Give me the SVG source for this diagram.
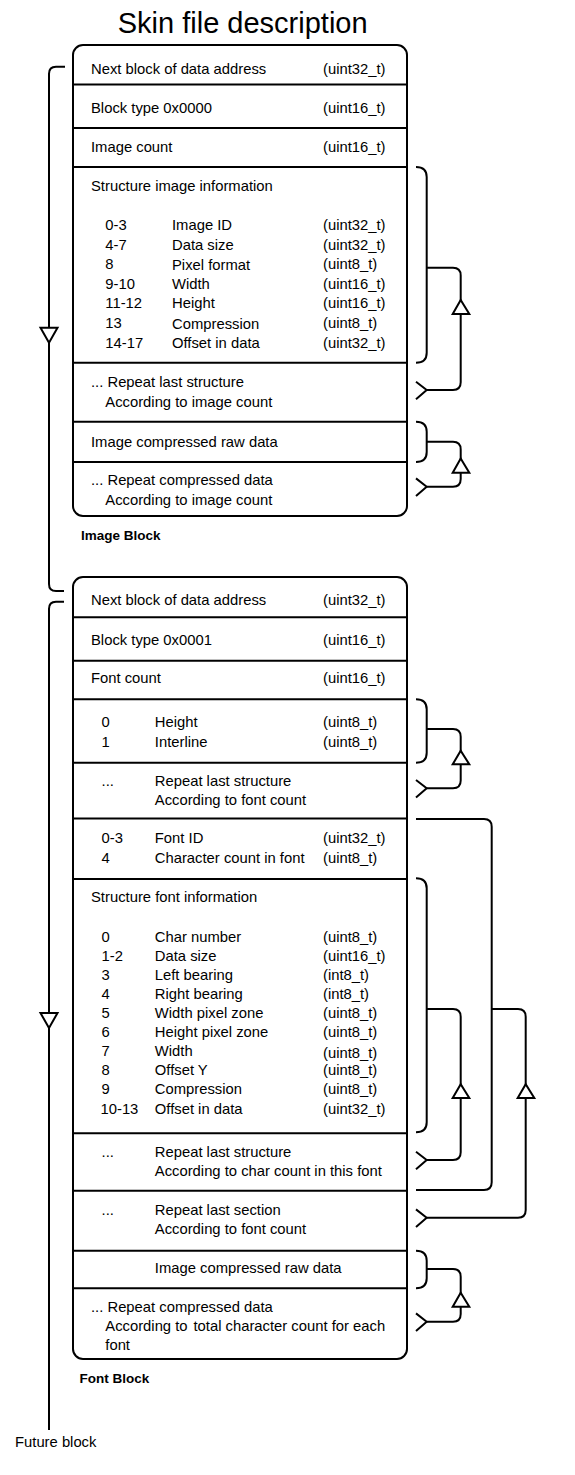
<svg xmlns="http://www.w3.org/2000/svg" width="575" height="1475" viewBox="0 0 575 1475">
<style>
text{font-family:"Liberation Sans",Arial,sans-serif;font-size:14.8px;fill:#000}
.title{font-size:29px}
.bold{font-weight:bold;font-size:13.5px}
.box{fill:#fff;stroke:#000;stroke-width:2}
.row{stroke:#000;stroke-width:2}
.c{fill:none;stroke:#000;stroke-width:2;stroke-linejoin:round}
.tri{fill:#fff;stroke:#000;stroke-width:2;stroke-linejoin:miter}
</style>
<rect width="575" height="1475" fill="#fff"/>
<text class="title" x="242.7" y="33" text-anchor="middle">Skin file description</text>

<g id="image-block">
<rect class="box" x="73" y="45" width="334" height="471" rx="10"/>
<line class="row" x1="73" y1="84.5" x2="407" y2="84.5"/>
<line class="row" x1="73" y1="128" x2="407" y2="128"/>
<line class="row" x1="73" y1="167" x2="407" y2="167"/>
<line class="row" x1="73" y1="362.7" x2="407" y2="362.7"/>
<line class="row" x1="73" y1="421.7" x2="407" y2="421.7"/>
<line class="row" x1="73" y1="462" x2="407" y2="462"/>
<g id="img-next"><text x="91" y="74">Next block of data address</text><text x="323" y="74">(uint32_t)</text></g>
<g id="img-type"><text x="91" y="113.3">Block type 0x0000</text><text x="323" y="113.3">(uint16_t)</text></g>
<g id="img-count"><text x="91" y="151.7">Image count</text><text x="323" y="151.7">(uint16_t)</text></g>
<g id="img-struct">
<text x="91" y="190.7">Structure image information</text>
<text x="105.3" y="230">0-3</text><text x="172" y="230">Image ID</text><text x="323" y="230">(uint32_t)</text>
<text x="105.3" y="249.6">4-7</text><text x="172" y="249.6">Data size</text><text x="323" y="249.6">(uint32_t)</text>
<text x="105.3" y="269.2">8</text><text x="172" y="269.8">Pixel format</text><text x="323" y="269.2">(uint8_t)</text>
<text x="105.3" y="288.8">9-10</text><text x="172" y="288.8">Width</text><text x="323" y="288.8">(uint16_t)</text>
<text x="105.3" y="308.4">11-12</text><text x="172" y="308.4">Height</text><text x="323" y="308.4">(uint16_t)</text>
<text x="105.3" y="328">13</text><text x="172" y="328.6">Compression</text><text x="323" y="328">(uint8_t)</text>
<text x="105.3" y="347.6">14-17</text><text x="172" y="347.6">Offset in data</text><text x="323" y="347.6">(uint32_t)</text>
</g>
<g id="img-repeat"><text x="91" y="386.7">... Repeat last structure</text><text x="105.3" y="406.7">According to image count</text></g>
<g id="img-raw"><text x="91" y="446.7">Image compressed raw data</text></g>
<g id="img-repeat-raw"><text x="91" y="485">... Repeat compressed data</text><text x="105.3" y="504.5">According to image count</text></g>
</g>
<text class="bold" x="81" y="540">Image Block</text>

<g id="font-block">
<rect class="box" x="73" y="577" width="334" height="782" rx="10"/>
<line class="row" x1="73" y1="617.3" x2="407" y2="617.3"/>
<line class="row" x1="73" y1="660.7" x2="407" y2="660.7"/>
<line class="row" x1="73" y1="699.3" x2="407" y2="699.3"/>
<line class="row" x1="73" y1="762.7" x2="407" y2="762.7"/>
<line class="row" x1="73" y1="818.5" x2="407" y2="818.5"/>
<line class="row" x1="73" y1="879" x2="407" y2="879"/>
<line class="row" x1="73" y1="1133.3" x2="407" y2="1133.3"/>
<line class="row" x1="73" y1="1190.7" x2="407" y2="1190.7"/>
<line class="row" x1="73" y1="1250.7" x2="407" y2="1250.7"/>
<line class="row" x1="73" y1="1288.3" x2="407" y2="1288.3"/>
<g id="font-next"><text x="91" y="605">Next block of data address</text><text x="323" y="605">(uint32_t)</text></g>
<g id="font-type"><text x="91" y="645">Block type 0x0001</text><text x="323" y="645">(uint16_t)</text></g>
<g id="font-count"><text x="91" y="683">Font count</text><text x="323" y="683">(uint16_t)</text></g>
<g id="font-header">
<text x="101.6" y="726.7">0</text><text x="154.8" y="726.7">Height</text><text x="323" y="726.7">(uint8_t)</text>
<text x="101.6" y="746.7">1</text><text x="154.8" y="746.7">Interline</text><text x="323" y="746.7">(uint8_t)</text>
</g>
<g id="font-header-repeat"><text x="101.6" y="785.7">...</text><text x="154.8" y="785.7">Repeat last structure</text><text x="154.8" y="804.5">According to font count</text></g>
<g id="font-id">
<text x="101.6" y="843.3">0-3</text><text x="154.8" y="843.3">Font ID</text><text x="323" y="843.3">(uint32_t)</text>
<text x="101.6" y="863.3">4</text><text x="154.8" y="863.3">Character count in font</text><text x="323" y="863.3">(uint8_t)</text>
</g>
<g id="font-struct">
<text x="91" y="902.3">Structure font information</text>
<text x="101.6" y="941.7">0</text><text x="154.8" y="941.7">Char number</text><text x="323" y="941.7">(uint8_t)</text>
<text x="101.6" y="960.8">1-2</text><text x="154.8" y="960.8">Data size</text><text x="323" y="960.8">(uint16_t)</text>
<text x="101.6" y="979.8">3</text><text x="154.8" y="979.8">Left bearing</text><text x="323" y="979.8">(int8_t)</text>
<text x="101.6" y="998.9">4</text><text x="154.8" y="998.9">Right bearing</text><text x="323" y="998.9">(int8_t)</text>
<text x="101.6" y="1017.9">5</text><text x="154.8" y="1017.9">Width pixel zone</text><text x="323" y="1017.9">(uint8_t)</text>
<text x="101.6" y="1037">6</text><text x="154.8" y="1037">Height pixel zone</text><text x="323" y="1037">(uint8_t)</text>
<text x="101.6" y="1056">7</text><text x="154.8" y="1056">Width</text><text x="323" y="1057.5">(uint8_t)</text>
<text x="101.6" y="1075">8</text><text x="154.8" y="1075">Offset Y</text><text x="323" y="1075">(uint8_t)</text>
<text x="101.6" y="1094.1">9</text><text x="154.8" y="1094.1">Compression</text><text x="323" y="1094.1">(uint8_t)</text>
<text x="100.5" y="1113.5">10-13</text><text x="154.8" y="1113.5">Offset in data</text><text x="323" y="1113.5">(uint32_t)</text>
</g>
<g id="font-struct-repeat"><text x="101.6" y="1156.7">...</text><text x="154.8" y="1156.7">Repeat last structure</text><text x="154.8" y="1175.7">According to char count in this font</text></g>
<g id="font-section-repeat"><text x="101.6" y="1215">...</text><text x="154.8" y="1215">Repeat last section</text><text x="154.8" y="1234">According to font count</text></g>
<g id="font-raw"><text x="154.8" y="1273.3">Image compressed raw data</text></g>
<g id="font-repeat-raw"><text x="91" y="1311.7">... Repeat compressed data</text><text x="105.3" y="1331">According to<tspan x="193.5">total character count for each</tspan></text><text x="105.3" y="1350">font</text></g>
</g>
<text class="bold" x="79.6" y="1383.3">Font Block</text>
<text x="15" y="1447">Future block</text>

<g id="connectors">
<path class="c" d="M65 66.7 H56 Q49 66.7 49 73.7 V584 Q49 591 56 591 H64"/>
<polygon class="tri" points="40.5,327.7 57.5,327.7 49,342.7"/>
<path class="c" d="M64 601.7 H56 Q49 601.7 49 608.7 V1430"/>
<polygon class="tri" points="40.5,1013 57.5,1013 49,1028"/>

<path class="c" d="M416 167 Q426.7 167 426.7 177 V352.7 Q426.7 362.7 416 362.7"/>
<path class="c" d="M426.7 267.7 H453 Q460.7 267.7 460.7 275.4 V382.3 Q460.7 390 453 390 H426.7"/>
<path class="c" d="M416 381.7 L426.7 390 L416 399.3"/>
<polygon class="tri" points="452.7,314 469.3,314 460.7,300"/>

<path class="c" d="M416 421.7 Q426.7 421.7 426.7 431.7 V452 Q426.7 462 416 462"/>
<path class="c" d="M426.7 441.7 H453 Q460.7 441.7 460.7 449.4 V479 Q460.7 486.7 453 486.7 H426.7"/>
<path class="c" d="M416 478.4 L426.7 486.7 L416 496"/>
<polygon class="tri" points="452.7,472.7 469.3,472.7 460.7,458.5"/>

<path class="c" d="M416 699.3 Q426.7 699.3 426.7 709.3 V752.7 Q426.7 762.7 416 762.7"/>
<path class="c" d="M426.7 729 H453 Q460.7 729 460.7 736.7 V780.6 Q460.7 788.3 453 788.3 H426.7"/>
<path class="c" d="M416 780 L426.7 788.3 L416 797.6"/>
<polygon class="tri" points="452.7,764.3 469.3,764.3 460.7,750.7"/>

<path class="c" d="M416 819 H484 Q491.7 819 491.7 826.7 V1182.3 Q491.7 1190 484 1190 H416"/>
<path class="c" d="M416 878.3 Q426.7 878.3 426.7 888.3 V1122.3 Q426.7 1132.3 416 1132.3"/>
<path class="c" d="M426.7 1009 H453 Q460.7 1009 460.7 1016.7 V1152.3 Q460.7 1160 453 1160 H426.7"/>
<path class="c" d="M416 1151.7 L426.7 1160 L416 1169.3"/>
<polygon class="tri" points="452.7,1098 469.3,1098 460.7,1084.3"/>
<path class="c" d="M491.7 1009 H518 Q525.7 1009 525.7 1016.7 V1210 Q525.7 1217.7 518 1217.7 H426.7"/>
<path class="c" d="M416 1209.4 L426.7 1217.7 L416 1227"/>
<polygon class="tri" points="517.7,1098 534.3,1098 525.7,1084.3"/>

<path class="c" d="M416 1250.7 Q426.7 1250.7 426.7 1260.7 V1278.3 Q426.7 1288.3 416 1288.3"/>
<path class="c" d="M426.7 1269 H453 Q460.7 1269 460.7 1276.7 V1314 Q460.7 1321.7 453 1321.7 H426.7"/>
<path class="c" d="M416 1313.4 L426.7 1321.7 L416 1331"/>
<polygon class="tri" points="452.7,1306.7 469.3,1306.7 460.7,1292.7"/>
</g>
</svg>
